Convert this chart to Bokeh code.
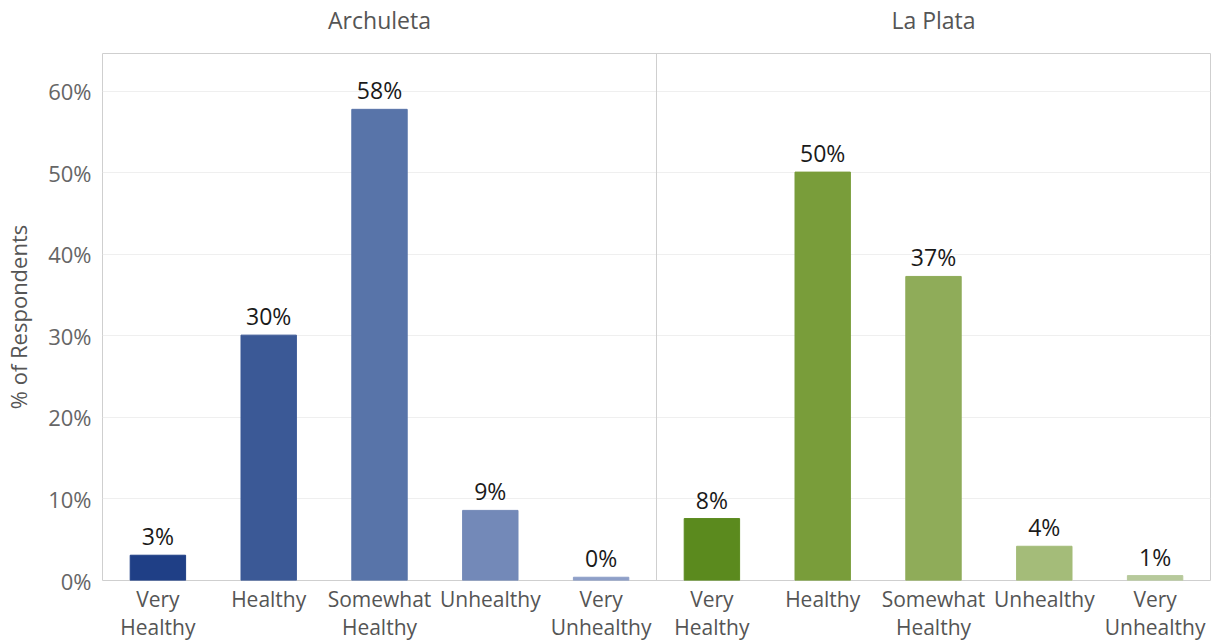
from bokeh.plotting import figure
from bokeh.models import ColumnDataSource, FixedTicker, Range1d, Span, LinearAxis
from bokeh.core.properties import value
from bokeh.embed import file_html
from bokeh.resources import INLINE

counties = ["Archuleta", "La Plata"]
categories = ["Very\nHealthy", "Healthy", "Somewhat\nHealthy", "Unhealthy", "Very\nUnhealthy"]
archuleta = [3.1, 30.1, 57.8, 8.6, 0.4]
la_plata = [7.6, 50.1, 37.3, 4.2, 0.6]
labels_arch = ["3%", "30%", "58%", "9%", "0%"]
labels_lp = ["8%", "50%", "37%", "4%", "1%"]
colors_arch = ["#1f3f86", "#3b5996", "#5874a9", "#7389b8", "#8e9fc8"]
colors_lp = ["#5b8a1e", "#799d3a", "#8fac59", "#a4bc79", "#b7c99b"]
y_ticks = [0, 10, 20, 30, 40, 50, 60]

FONT = "Open Sans"
n = len(categories)
xs = list(range(1, 2 * n + 1))
src = ColumnDataSource(dict(
    x=xs,
    top=archuleta + la_plata,
    color=colors_arch + colors_lp,
    label=labels_arch + labels_lp,
))

p = figure(width=1214, height=643, output_backend="svg", toolbar_location=None,
           x_range=Range1d(0.5, 2 * n + 0.5), y_range=Range1d(0, 64.65),
           min_border_left=101, min_border_right=4, min_border_top=52, min_border_bottom=63)
p.background_fill_color = "white"
p.border_fill_color = "white"
p.outline_line_color = "#cfcfcf"
p.outline_line_width = 1

bottom_axis = p.below[0]
left_axis = p.left[0]

p.vbar(x="x", top="top", width=0.5, color="color", source=src)
p.text(x="x", y="top", text="label", source=src, text_align="center", text_baseline="bottom",
       y_offset=-3, text_font=value(FONT), text_font_size="23px", text_color="#1a1a1a")

p.add_layout(Span(location=n + 0.5, dimension="height", line_color="#cfcfcf", line_width=1))

# county headers as a top axis
top_ticks = [i * n + (n + 1) / 2 for i in range(len(counties))]
top_axis = LinearAxis(ticker=FixedTicker(ticks=top_ticks),
                      major_label_overrides={t: c for t, c in zip(top_ticks, counties)})
top_axis.major_label_text_font = FONT
top_axis.major_label_text_font_size = "23px"
top_axis.major_label_text_color = "#555555"
top_axis.major_label_standoff = 18
top_axis.axis_line_color = None
top_axis.major_tick_line_color = None
top_axis.minor_tick_line_color = None
top_axis.major_tick_out = 0
top_axis.major_tick_in = 0
p.add_layout(top_axis, "above")

# x axis
bottom_axis.ticker = FixedTicker(ticks=xs)
bottom_axis.major_label_overrides = {x: categories[(x - 1) % n] for x in xs}
bottom_axis.major_label_text_font = FONT
bottom_axis.major_label_text_font_size = "21px"
bottom_axis.major_label_text_color = "#555555"
bottom_axis.major_label_text_line_height = 1.0
bottom_axis.major_label_standoff = 4
bottom_axis.axis_line_color = None
bottom_axis.major_tick_line_color = None
bottom_axis.minor_tick_line_color = None
bottom_axis.major_tick_out = 0
bottom_axis.major_tick_in = 0

# y axis
left_axis.ticker = FixedTicker(ticks=y_ticks)
left_axis.major_label_overrides = {t: f"{t}%" for t in y_ticks}
left_axis.major_label_text_font = FONT
left_axis.major_label_text_font_size = "22px"
left_axis.major_label_text_color = "#666666"
left_axis.major_label_standoff = 11
left_axis.axis_line_color = None
left_axis.major_tick_line_color = None
left_axis.minor_tick_line_color = None
left_axis.major_tick_out = 0
left_axis.major_tick_in = 0
left_axis.axis_label = "% of Respondents"
left_axis.axis_label_text_font = FONT
left_axis.axis_label_text_font_size = "22px"
left_axis.axis_label_text_font_style = "normal"
left_axis.axis_label_text_color = "#555555"
left_axis.axis_label_standoff = 12

p.xgrid.grid_line_color = None
p.ygrid.grid_line_color = "#efefef"

open("out.html", "w").write(file_html(p, INLINE))
